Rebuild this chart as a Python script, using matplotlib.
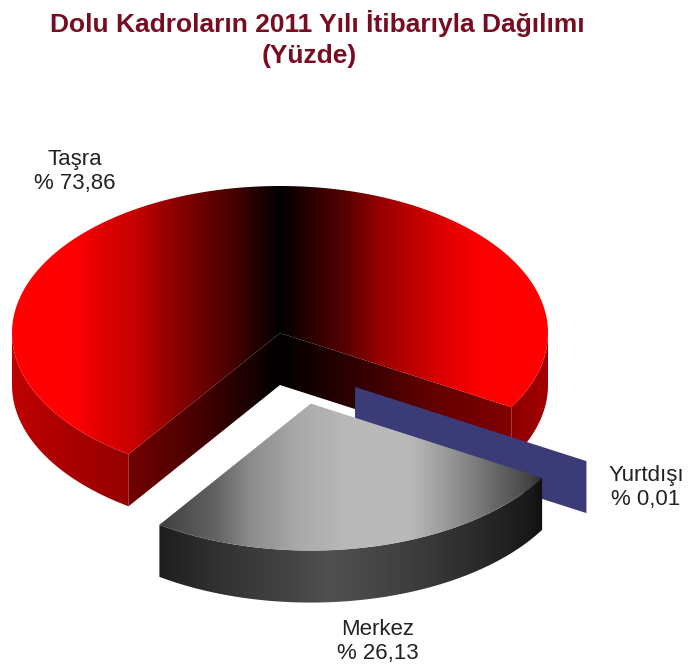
import numpy as np
import matplotlib
matplotlib.use('Agg')
import matplotlib.pyplot as plt
from matplotlib.path import Path
from matplotlib.patches import PathPatch

# Share of filled positions, percent
labels = ['Taşra', 'Merkez', 'Yurtdışı']
shares = [73.86, 26.13, 0.01]
value_text = ['% 73,86', '% 26,13', '% 0,01']

title_lines = ['Dolu Kadroların 2011 Yılı İtibarıyla Dağılımı', '(Yüzde)']

# Pie geometry in pixels
CX, CY = 280.0, 333.0
RX, RY = 268.0, 147.0
DEPTH = 52.0
START = -30.3
MERKEZ_SHIFT = (0.115, 0.48)
YURTDISI_SHIFT = (0.28, 0.367)

TITLE_COLOR = '#7a0c22'
BLUE = '#3b3b78'

plt.rcParams['font.family'] = ['Liberation Sans', 'DejaVu Sans']

fig = plt.figure(figsize=(6.89, 6.67), dpi=100)
ax = fig.add_axes([0, 0, 1, 1])
ax.axis('off')


def arc(cx, cy, t1, t2, n=160):
    t = np.radians(np.linspace(t1, t2, n))
    return np.column_stack([cx + RX * np.cos(t), cy - RY * np.sin(t)])


def fill_gradient(points, xs, levels, base):
    # Horizontal shading: levels are 0-255 values at the pixel columns in xs
    points = np.asarray(points)
    path = Path(np.vstack([points, points[:1]]), closed=True)
    x0, x1 = points[:, 0].min() - 2, points[:, 0].max() + 2
    col = np.linspace(x0, x1, 400)
    v = np.interp(col, xs, levels) / 255.0
    rgb = np.stack([v * base[0], v * base[1], v * base[2]], axis=-1)[None, :, :]
    y0, y1 = points[:, 1].min() - 2, points[:, 1].max() + 2
    im = ax.imshow(rgb, extent=[x0, x1, y1, y0], aspect='auto', interpolation='bilinear')
    patch = PathPatch(path, facecolor='none', edgecolor='none', transform=ax.transData)
    ax.add_patch(patch)
    im.set_clip_path(patch)


def side(cx, cy, t1, t2):
    top = arc(cx, cy, t1, t2)
    bottom = top[::-1] + [0, DEPTH]
    return np.vstack([top, bottom])


def wall(cx, cy, t):
    rim = arc(cx, cy, t, t, 1)[0]
    return [(cx, cy), tuple(rim), (rim[0], rim[1] + DEPTH), (cx, cy + DEPTH)]


def sector(cx, cy, t1, t2):
    return np.vstack([[[cx, cy]], arc(cx, cy, t1, t2)])


t_tasra = START + shares[0] * 3.6
t_merkez = t_tasra + shares[1] * 3.6
t_yurtdisi = t_merkez + shares[2] * 3.6

RED = (1, 0, 0)
GREY = (1, 1, 1)

# Taşra: outer rim on both sides of the front, then cut faces, then top
fill_gradient(side(CX, CY, 180, t_tasra), [12, 128], [190, 150], RED)
fill_gradient(side(CX, CY, START, 0), [505, 549], [135, 165], RED)
fill_gradient(wall(CX, CY, t_tasra), [128, 200, 280], [115, 70, 0], RED)
fill_gradient(wall(CX, CY, START), [280, 350, 425, 511], [0, 45, 95, 130], RED)
fill_gradient(sector(CX, CY, START, t_tasra),
              [12, 75, 100, 133, 167, 200, 233, 267, 280, 313, 347, 380, 413, 447, 480, 510, 549],
              [255, 255, 225, 200, 150, 110, 70, 20, 0, 45, 90, 150, 190, 225, 250, 255, 255], RED)

# Yurtdışı: thin slice, only its cut face shows (zorder 0 keeps it in draw order with the images)
cx_y = CX + YURTDISI_SHIFT[0] * RX
cy_y = CY + YURTDISI_SHIFT[1] * RY
ax.add_patch(plt.Polygon(wall(cx_y, cy_y, t_yurtdisi), closed=True, facecolor=BLUE, edgecolor='none', zorder=0))

# Merkez: exploded towards the viewer
cx_m = CX + MERKEZ_SHIFT[0] * RX
cy_m = CY + MERKEZ_SHIFT[1] * RY
fill_gradient(side(cx_m, cy_m, t_tasra, t_merkez),
              [160, 220, 280, 330, 400, 470, 530, 544], [30, 50, 65, 80, 65, 45, 25, 15], GREY)
fill_gradient(sector(cx_m, cy_m, t_tasra, t_merkez),
              [160, 170, 217, 250, 300, 350, 410, 440, 470, 500, 530, 544],
              [60, 70, 100, 140, 170, 185, 185, 160, 130, 100, 70, 40], GREY)

ax.set_xlim(0, 689)
ax.set_ylim(667, 0)

# Title lines
ax.text(317, 32, title_lines[0], ha='center', va='baseline', fontsize=19, fontweight='bold', color=TITLE_COLOR)
ax.text(309, 63, title_lines[1], ha='center', va='baseline', fontsize=19, fontweight='bold', color=TITLE_COLOR)

# Slice labels, name above value
label_pos = [(75, 165, 189), (378, 635, 659), (646, 481, 505)]
for name, val, (x, y1, y2) in zip(labels, value_text, label_pos):
    ax.text(x, y1, name, ha='center', va='baseline', fontsize=16, color='#222222')
    ax.text(x, y2, val, ha='center', va='baseline', fontsize=16, color='#222222')

fig.savefig('out.png', dpi=100)
